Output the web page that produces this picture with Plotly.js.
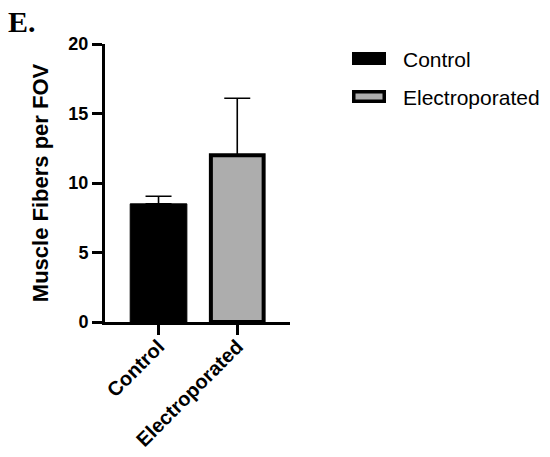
<!DOCTYPE html>
<html>
<head>
<meta charset="utf-8">
<script src="https://cdn.plot.ly/plotly-3.0.1.min.js"></script>
<style>html,body{margin:0;padding:0;background:#fff;}#chart{width:550px;height:457px;}</style>
</head>
<body>
<div id="chart"></div>
<script>
// ---- data ----
const categories = ["Control", "Electroporated"];
const meanValues = [8.5, 12.0];
const errorUp = [0.55, 4.1];
const errorDown = [0, 0];
const yTickValues = [0, 5, 10, 15, 20];
const yTickLabels = ["0", "5", "10", "15", "20"];

// ---- styles ----
const fillColors = ["#000000", "#adadad"];
const borderWidths = [1, 4];
const barWidths = [0.72, 0.67];
const FONT = "Arial, 'Liberation Sans', Helvetica, sans-serif";

// plot area in pixels (used only for placing the hand-drawn legend)
const L = 105, T = 44, W = 185, H = 278;
const px2x = p => (p - L) / W;
const py2y = p => (T + H - p) / H;

const trace = {
  type: "bar",
  x: categories,
  y: meanValues,
  width: barWidths,
  marker: { color: fillColors, line: { color: "#000", width: borderWidths } },
  error_y: {
    type: "data", symmetric: false,
    array: errorUp, arrayminus: errorDown,
    color: "#000", thickness: 1.6, width: 13
  },
  hoverinfo: "none",
  showlegend: false
};

// legend built from categories
const shapes = [];
const annotations = [];
const legendCenters = [58.5, 96.5];
categories.forEach((c, i) => {
  const cy = legendCenters[i];
  const lw = i === 0 ? 0 : 3.5;
  const inset = lw / 2;
  shapes.push({
    type: "rect", xref: "paper", yref: "paper",
    x0: px2x(352 + inset), x1: px2x(386 - inset),
    y0: py2y(cy - 6.5 + inset), y1: py2y(cy + 6.5 - inset),
    fillcolor: fillColors[i],
    line: { color: "#000", width: lw }
  });
  annotations.push({
    xref: "paper", yref: "paper",
    x: px2x(401), y: py2y(cy + 1),
    xanchor: "left", yanchor: "middle",
    text: c, showarrow: false,
    font: { family: FONT, size: 21, color: "#000" }
  });
});
annotations.push({
  xref: "paper", yref: "paper",
  x: px2x(6), y: py2y(3),
  xanchor: "left", yanchor: "top",
  text: "<b>E.</b>", showarrow: false,
  font: { family: "'Liberation Serif', 'Times New Roman', serif", size: 30, color: "#000" }
});

const layout = {
  width: 550, height: 457,
  margin: { l: L, r: 550 - L - W, t: T, b: 457 - T - H },
  paper_bgcolor: "#fff", plot_bgcolor: "#fff",
  showlegend: false,
  font: { family: FONT, color: "#000" },
  xaxis: {
    type: "category",
    range: [-0.68, 1.67],
    showline: true, linewidth: 3, linecolor: "#000",
    ticks: "outside", ticklen: 10, tickwidth: 3, tickcolor: "#000",
    tickangle: -45,
    ticklabelstandoff: -8,
    tickfont: { family: FONT, size: 20, color: "#000", weight: "bold" },
    showgrid: false, zeroline: false, fixedrange: true
  },
  yaxis: {
    range: [0, 20],
    tickvals: yTickValues, ticktext: yTickLabels,
    showline: true, linewidth: 3, linecolor: "#000",
    ticks: "outside", ticklen: 10, tickwidth: 3, tickcolor: "#000",
    tickfont: { family: FONT, size: 18, color: "#000", weight: "bold" },
    showgrid: false, zeroline: false, fixedrange: true,
    title: { text: "<b>Muscle Fibers per FOV</b>", font: { family: FONT, size: 22, color: "#000" }, standoff: 14 }
  },
  shapes: shapes,
  annotations: annotations,
  bargap: 0.3
};

Plotly.newPlot("chart", [trace], layout, { displayModeBar: false, staticPlot: true });
</script>
</body>
</html>
